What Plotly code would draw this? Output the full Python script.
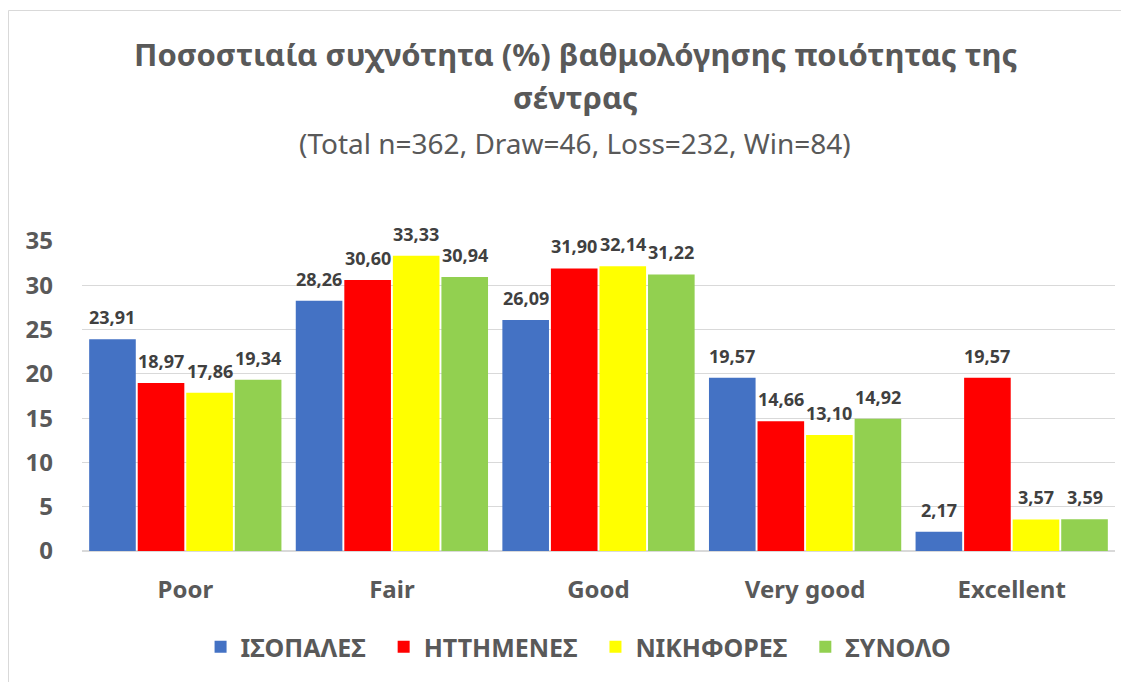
import plotly.graph_objects as go

categories = ["Poor", "Fair", "Good", "Very good", "Excellent"]
series_names = ["ΙΣΟΠΑΛΕΣ", "ΗΤΤΗΜΕΝΕΣ", "ΝΙΚΗΦΟΡΕΣ", "ΣΥΝΟΛΟ"]
draw_vals = [23.91, 28.26, 26.09, 19.57, 2.17]
loss_vals = [18.97, 30.60, 31.90, 14.66, 19.57]
win_vals = [17.86, 33.33, 32.14, 13.10, 3.57]
total_vals = [19.34, 30.94, 31.22, 14.92, 3.59]
colors = ["#4472C4", "#FF0000", "#FFFF00", "#92D050"]
y_ticks = [0, 5, 10, 15, 20, 25, 30, 35]

title_line1 = "Ποσοστιαία συχνότητα (%) βαθμολόγησης ποιότητας της"
title_line2 = "σέντρας"
subtitle = "(Total n=362, Draw=46, Loss=232, Win=84)"

FONT = "Noto Sans"
TXT = "#595959"
PW, PH = 1033, 310
BARGAP = 0.06

all_series = [draw_vals, loss_vals, win_vals, total_vals]

fig = go.Figure()
for name, vals, col in zip(series_names, all_series, colors):
    fig.add_trace(go.Bar(
        x=categories, y=vals, name=name + "\u00a0\u00a0",
        marker=dict(color=col, line=dict(width=0)),
    ))

# data labels above each bar
slot = PW / len(categories) * (1 - BARGAP) / len(series_names)
for i, vals in enumerate(all_series):
    off = (i - (len(series_names) - 1) / 2) * slot
    for c, v in zip(categories, vals):
        fig.add_annotation(x=c, y=v, xref="x", yref="y", xshift=off, yshift=22,
                           text=f"<b>{v:.2f}</b>".replace(".", ","), showarrow=False,
                           yanchor="middle", xanchor="center",
                           font=dict(family=FONT, size=18, color="#404040"))

fig.update_layout(
    width=1121, height=674,
    margin=dict(l=74, r=14, t=233, b=131),
    paper_bgcolor="white", plot_bgcolor="white",
    barmode="group", bargap=BARGAP, bargroupgap=0.04,
    showlegend=True,
    legend=dict(orientation="h", x=0.487, xanchor="center", y=-0.31, yanchor="middle",
                font=dict(family=FONT, size=25, color=TXT, weight="bold"),
                itemwidth=30, traceorder="normal"),
    xaxis=dict(showgrid=False, showline=False, ticks="",
               tickfont=dict(family=FONT, size=24, color=TXT, weight="bold"),
               ticklabelstandoff=22),
    yaxis=dict(range=[0, 35], tickvals=y_ticks, showgrid=True, gridcolor="#D9D9D9",
               gridwidth=1, zeroline=True, zerolinecolor="#D9D9D9", showline=False,
               tickfont=dict(family=FONT, size=24, color=TXT, weight="bold"),
               ticklabelstandoff=28),
    font=dict(family=FONT, color=TXT),
)

cx = (575 - 82) / PW
fig.add_annotation(x=cx, y=(551 - 54) / PH, xref="paper", yref="paper",
                   text=f"<b>{title_line1}</b>", showarrow=False,
                   font=dict(family=FONT, size=31, color=TXT), yanchor="middle")
fig.add_annotation(x=cx, y=(551 - 97) / PH, xref="paper", yref="paper",
                   text=f"<b>{title_line2}</b>", showarrow=False,
                   font=dict(family=FONT, size=31, color=TXT), yanchor="middle")
fig.add_annotation(x=cx, y=(551 - 143) / PH, xref="paper", yref="paper",
                   text=subtitle, showarrow=False,
                   font=dict(family=FONT, size=28, color=TXT), yanchor="middle")

fig.add_shape(type="rect", xref="paper", yref="paper",
              x0=(8.5 - 82) / PW, x1=(1160 - 82) / PW,
              y0=(551 - 700) / PH, y1=(551 - 10.5) / PH,
              line=dict(color="#D9D9D9", width=1), fillcolor="rgba(0,0,0,0)", layer="below")

fig.write_html("out.html")
